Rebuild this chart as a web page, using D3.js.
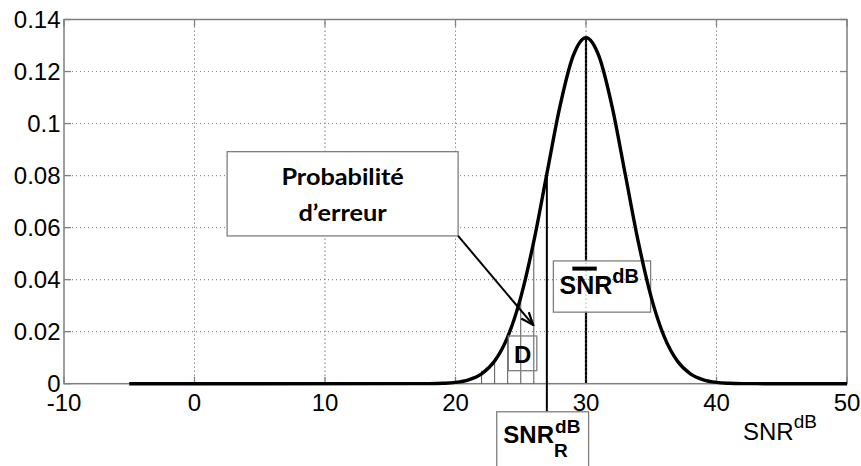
<!DOCTYPE html>
<html><head><meta charset="utf-8">
<script src="https://cdn.jsdelivr.net/npm/d3@7"></script>
<style>
html,body{margin:0;padding:0;background:#fff;}
svg{display:block;}
</style></head>
<body>
<svg id="chart" width="861" height="466"></svg>
<script>
// ---- data ----
const snrX   = [-5, 17, 18, 19, 20, 21, 22, 23, 24, 25, 26, 27, 28, 29, 30, 31, 32, 33, 34, 35, 36, 37, 38, 39, 40, 41, 42, 43, 50];
const pdfY   = [0, 0.00001, 0.00004, 0.00016, 0.0005, 0.0015, 0.0038, 0.0087, 0.018, 0.0332, 0.0547, 0.0807, 0.1065, 0.1258, 0.133, 0.1258, 0.1065, 0.0807, 0.0547, 0.0332, 0.018, 0.0087, 0.0038, 0.0015, 0.0005, 0.00016, 0.00004, 0.00001, 0];
const hatchX = [22, 23, 24, 25, 26];
const snrMean = 30;
const snrR    = 27;
const xTicks  = [-10, 0, 10, 20, 30, 40, 50];
const xTickLabels = ["-10", "0", "10", "20", "30", "40", "50"];
const yTicks  = [0, 0.02, 0.04, 0.06, 0.08, 0.1, 0.12, 0.14];
const yTickLabels = ["0", "0.02", "0.04", "0.06", "0.08", "0.1", "0.12", "0.14"];
const xTitle  = "SNR";
const xTitleSup = "dB";
const probText = ["Probabilité", "d’erreur"];
const dLabel  = "D";
// annotation boxes in data units [x0, x1, yTop, yBottom]
const probBox = [2.5, 20.2, 0.0892, 0.0568];
const meanBox = [27.5, 34.95, 0.0472, 0.0275];
const dBox    = [24.05, 26.23, 0.01835, 0.005];
const rBox    = [23.16, 30.2, -0.0108, -0.0320];
const arrowFrom = [20.2, 0.0568];
const arrowTo   = [25.95, 0.0226];
</script>
<script>
const svg = d3.select("#chart");
const W = 861, H = 466;
const m = {left: 64, top: 19.5, right: 14, bottom: 82.3};
const x = d3.scaleLinear().domain([-10, 50]).range([m.left, W - m.right]);
const y = d3.scaleLinear().domain([0, 0.14]).range([H - m.bottom, m.top]);
const X0 = x.range()[0], X1 = x.range()[1], Y0 = y.range()[0], Y1 = y.range()[1];

const gridColor = "#8a8a8a";
const frameColor = "#7f7f7f";
const lf = "'Liberation Sans', Arial, Helvetica, sans-serif";

function drawGrid(g){
  g.selectAll("line.gx").data(xTicks.slice(1, -1)).join("line").attr("class","gx")
    .attr("x1", d=>x(d)).attr("x2", d=>x(d)).attr("y1", Y0).attr("y2", Y1)
    .attr("stroke", gridColor).attr("stroke-width", 1).attr("stroke-dasharray", "1,3");
  g.selectAll("line.gy").data(yTicks.slice(1, -1)).join("line").attr("class","gy")
    .attr("x1", X0).attr("x2", X1).attr("y1", d=>y(d)).attr("y2", d=>y(d))
    .attr("stroke", gridColor).attr("stroke-width", 1).attr("stroke-dasharray", "1,3");
}

svg.append("rect").attr("width", W).attr("height", H).attr("fill", "#fff");
drawGrid(svg.append("g"));

// ticks (inward, all four sides)
const tk = svg.append("g").attr("stroke", frameColor).attr("stroke-width", 1.3);
xTicks.forEach(t=>{
  tk.append("line").attr("x1", x(t)).attr("x2", x(t)).attr("y1", Y0).attr("y2", Y0-7);
  tk.append("line").attr("x1", x(t)).attr("x2", x(t)).attr("y1", Y1).attr("y2", Y1+7);
});
yTicks.forEach(t=>{
  tk.append("line").attr("x1", X0).attr("x2", X0+7).attr("y1", y(t)).attr("y2", y(t));
  tk.append("line").attr("x1", X1).attr("x2", X1-7).attr("y1", y(t)).attr("y2", y(t));
});

const curveData = snrX.map((sx,i)=>({x: sx, y: pdfY[i]}));
const valAt = xx => { const p = curveData.find(d=>d.x===xx); return p ? p.y : 0; };

// mean line
svg.append("line").attr("x1", x(snrMean)).attr("x2", x(snrMean))
  .attr("y1", y(valAt(snrMean))).attr("y2", Y0)
  .attr("stroke", "#000").attr("stroke-width", 2.2);

// mean box (white fill, hides the mean line)
svg.append("rect").attr("x", x(meanBox[0])).attr("y", y(meanBox[2]))
  .attr("width", x(meanBox[1]) - x(meanBox[0])).attr("height", y(meanBox[3]) - y(meanBox[2]))
  .attr("fill", "#fff").attr("stroke", frameColor).attr("stroke-width", 1.3);
drawGrid(svg.append("g"));

// frame
svg.append("rect").attr("x", X0).attr("y", Y1).attr("width", X1-X0).attr("height", Y0-Y1)
  .attr("fill", "none").attr("stroke", frameColor).attr("stroke-width", 1.5);

// hatch lines
svg.append("g").selectAll("line").data(hatchX).join("line")
  .attr("x1", d=>x(d)).attr("x2", d=>x(d)).attr("y1", Y0).attr("y2", d=>y(valAt(d)) - 3)
  .attr("stroke", "#555").attr("stroke-width", 1);

// curve
const line = d3.line().x(d=>x(d.x)).y(d=>y(d.y)).curve(d3.curveMonotoneX);
svg.append("path").datum(curveData).attr("d", line)
  .attr("fill", "none").attr("stroke", "#000").attr("stroke-width", 3.4);

// threshold line
svg.append("line").attr("x1", x(snrR)).attr("x2", x(snrR))
  .attr("y1", y(valAt(snrR))).attr("y2", y(rBox[2]))
  .attr("stroke", "#000").attr("stroke-width", 2);

// tick labels
svg.append("g").selectAll("text").data(yTicks).join("text")
  .attr("x", X0 - 3.5).attr("y", d=>y(d) + 8.5).attr("text-anchor", "end")
  .attr("font-family", lf).attr("font-size", 24).attr("fill", "#000")
  .text((d,i)=>yTickLabels[i]);
svg.append("g").selectAll("text").data(xTicks).join("text")
  .attr("x", d=>x(d)).attr("y", Y0 + 27.5).attr("text-anchor", "middle")
  .attr("font-family", lf).attr("font-size", 24).attr("fill", "#000")
  .text((d,i)=>xTickLabels[i]);

// x title
const xt = svg.append("text").attr("x", 743).attr("y", 440)
  .attr("font-family", lf).attr("font-size", 24).attr("fill", "#000").text(xTitle);
xt.append("tspan").attr("dy", -12).attr("font-size", 19).text(xTitleSup);

// mean box text
const mbx = x(meanBox[0]), mby = y(meanBox[2]);
const mt = svg.append("text").attr("x", mbx + 6.2).attr("y", mby + 33)
  .attr("font-family", lf).attr("font-size", 25).attr("font-weight", "bold").attr("fill", "#000");
mt.append("tspan").text(xTitle);
mt.append("tspan").attr("dy", -11).attr("font-size", 20).text(xTitleSup);
svg.append("rect").attr("x", mbx + 19).attr("y", mby + 5.7).attr("width", 24.4).attr("height", 4).attr("fill", "#000");

// probability box
const pbx = x(probBox[0]), pby = y(probBox[2]);
svg.append("rect").attr("x", pbx).attr("y", pby)
  .attr("width", x(probBox[1]) - pbx).attr("height", y(probBox[3]) - pby)
  .attr("fill", "#fff").attr("stroke", frameColor).attr("stroke-width", 1.3);
const pcx = (x(probBox[0]) + x(probBox[1])) / 2;
probText.forEach((t,i)=>{
  svg.append("text").attr("transform", `translate(${pcx},${pby + 33.3 + i*35.7}) scale(1.15,1)`)
    .attr("text-anchor", "middle")
    .attr("font-family", "Lato, 'Open Sans', sans-serif").attr("font-weight", "bold").attr("font-size", 22)
    .attr("fill", "#000").text(t);
});

// arrow
const defs = svg.append("defs");
defs.append("marker").attr("id", "ah").attr("viewBox", "0 0 10 10").attr("refX", 9).attr("refY", 5)
  .attr("markerWidth", 14).attr("markerHeight", 14).attr("markerUnits", "userSpaceOnUse").attr("orient", "auto")
  .append("path").attr("d", "M0,1.5 L9,5 L0,8.5").attr("fill", "none").attr("stroke", "#000").attr("stroke-width", 1.6);
svg.append("line").attr("x1", x(arrowFrom[0])).attr("y1", y(arrowFrom[1]))
  .attr("x2", x(arrowTo[0])).attr("y2", y(arrowTo[1]))
  .attr("stroke", "#000").attr("stroke-width", 2).attr("marker-end", "url(#ah)");

// D box
const dbx = x(dBox[0]), dby = y(dBox[2]);
svg.append("rect").attr("x", dbx).attr("y", dby)
  .attr("width", x(dBox[1]) - dbx).attr("height", y(dBox[3]) - dby)
  .attr("fill", "none").attr("stroke", frameColor).attr("stroke-width", 1.3);
svg.append("text").attr("x", (x(dBox[0]) + x(dBox[1]))/2).attr("y", dby + 27.3).attr("text-anchor", "middle")
  .attr("font-family", lf).attr("font-weight", "bold").attr("font-size", 24).attr("fill", "#000").text(dLabel);

// SNR_R box
const rbx = x(rBox[0]), rby = y(rBox[2]);
svg.append("rect").attr("x", rbx).attr("y", rby)
  .attr("width", x(rBox[1]) - rbx).attr("height", y(rBox[3]) - rby)
  .attr("fill", "#fff").attr("stroke", frameColor).attr("stroke-width", 1.3);
svg.append("text").attr("x", rbx + 6.6).attr("y", rby + 31.6)
  .attr("font-family", lf).attr("font-weight", "bold").attr("font-size", 24).attr("fill", "#000").text(xTitle);
svg.append("text").attr("x", rbx + 58.3).attr("y", rby + 21.5)
  .attr("font-family", lf).attr("font-weight", "bold").attr("font-size", 19).attr("fill", "#000").text(xTitleSup);
svg.append("text").attr("x", rbx + 57.3).attr("y", rby + 45)
  .attr("font-family", lf).attr("font-weight", "bold").attr("font-size", 19).attr("fill", "#000").text("R");
</script>
</body></html>
